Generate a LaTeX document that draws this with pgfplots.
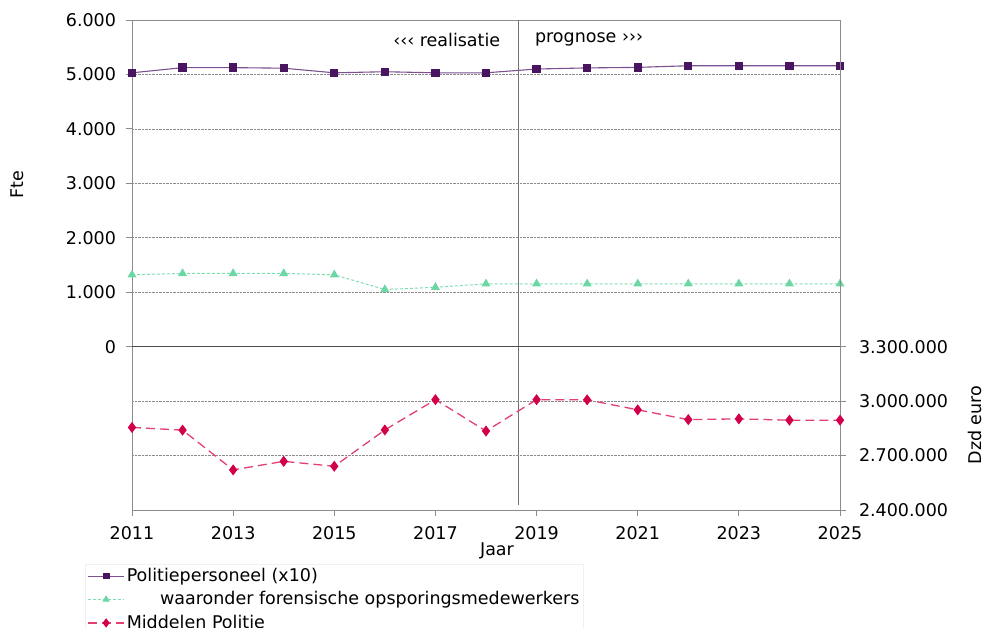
\documentclass[border=0pt]{standalone}
\usepackage{fontspec}
\setmainfont{DejaVu Sans}
\usepackage{pgfplots}
\pgfplotsset{compat=1.18}

\definecolor{pmark}{HTML}{4A1560}
\definecolor{pline}{HTML}{7D5090}
\definecolor{gmark}{HTML}{6CD6A4}
\definecolor{gline}{HTML}{7FDDB2}
\definecolor{rmark}{HTML}{D2004B}
\definecolor{rline}{HTML}{E2416F}
\definecolor{axgray}{HTML}{8C8C8C}

\pgfplotstableread{
jaar fte
2011 5030
2012 5125
2013 5125
2014 5115
2015 5030
2016 5050
2017 5030
2018 5030
2019 5100
2020 5120
2021 5130
2022 5160
2023 5160
2024 5160
2025 5160
}\personeel

\pgfplotstableread{
jaar fte
2011 1320
2012 1345
2013 1345
2014 1345
2015 1320
2016 1050
2017 1090
2018 1155
2019 1155
2020 1155
2021 1155
2022 1155
2023 1155
2024 1155
2025 1155
}\forensisch

\pgfplotstableread{
jaar euro
2011 2855000
2012 2840000
2013 2621000
2014 2668000
2015 2641000
2016 2841000
2017 3008000
2018 2835000
2019 3008000
2020 3007000
2021 2952000
2022 2898000
2023 2902000
2024 2895000
2025 2895000
}\middelen

\pgfplotsset{
  basis/.style={
    at={(132pt,117pt)}, anchor=south west,
    width=708pt, height=490pt, scale only axis,
    xmin=2011, xmax=2025, clip=false,
    /pgf/number format/assume math mode=true,
    axis line style={axgray, line width=0.8pt},
    tick style={axgray, line width=0.8pt},
    tick align=outside, major tick length=6pt,
    grid style={densely dotted, black!45, line width=0.6pt},
    ymajorgrids,
  },
  stijlP/.style={pline, line width=1.1pt, mark=square*, mark size=3.6pt,
    mark options={solid, fill=pmark, draw=pmark}},
  stijlG/.style={gline, line width=1pt, dash pattern=on 3pt off 2pt, mark=triangle*, mark size=4.2pt,
    mark options={solid, fill=gmark, draw=gmark}},
  stijlR/.style={rline, line width=1.3pt, dash pattern=on 9pt off 5pt, mark=diamond*, mark size=4.5pt,
    mark options={solid, fill=rmark, draw=rmark}},
}

\begin{document}
\fontsize{17.5pt}{21pt}\selectfont
\begin{tikzpicture}
\path[use as bounding box] (0pt,0pt) rectangle (984pt,627pt);
\clip (0pt,0pt) rectangle (984pt,627pt);

\begin{axis}[basis,
  ymin=-3000, ymax=6000,
  xtick={2011,2013,...,2025},
  ytick={0,1000,...,6000},
  xtick pos=bottom, ytick pos=left,
  xticklabel style={/pgf/number format/1000 sep={}, yshift=-4pt},
  yticklabel style={/pgf/number format/fixed, /pgf/number format/1000 sep={.}, xshift=-4pt},
  legend style={at={(axis description cs:-0.066,-0.11)}, anchor=north west,
    draw=black!6, fill=none, font=\fontsize{17.5pt}{21pt}\selectfont,
    row sep=3.5pt, inner sep=2pt},
  legend cell align=left,
  legend image code/.code={\draw[mark repeat=2, mark phase=2,
    every mark/.append style={scale=0.8}]
    plot coordinates {(0pt,0pt) (18pt,0pt) (36pt,0pt)};},
]
\addplot[stijlP] table[x=jaar, y=fte] {\personeel};
\addlegendentry{Politiepersoneel (x10)}
\addplot[stijlG] table[x=jaar, y=fte] {\forensisch};
\addlegendentry{\hspace{1.9em}waaronder forensische opsporingsmedewerkers}
\addlegendimage{stijlR}
\addlegendentry{Middelen Politie}
\draw[black!70, line width=1.2pt] (axis cs:2011,0) -- (axis cs:2025,0);
\draw[black!55, line width=1pt] (axis cs:2018.65,6000) -- (axis cs:2018.65,-2910);
\node[anchor=east] at (axis cs:2018.4,5640) {‹‹‹ realisatie};
\node[anchor=west] at (axis cs:2018.85,5640) {prognose ›››};
\end{axis}

\begin{axis}[basis,
  ymin=2400000, ymax=5100000,
  ytick={2400000,2700000,3000000,3300000},
  axis x line=none, axis y line*=right,
  scaled y ticks=false,
  yticklabel style={/pgf/number format/fixed, /pgf/number format/precision=0,
    /pgf/number format/1000 sep={.}, xshift=7pt},
]
\addplot[stijlR] table[x=jaar, y=euro] {\middelen};
\draw[black!70, line width=1.2pt] (axis cs:2011,3300000) -- (axis cs:2025,3300000);
\end{axis}

\node[rotate=90] at (17pt,442pt) {Fte};
\node[rotate=90, inner sep=0pt] at (975pt,202pt) {Dzd euro};
\node at (497pt,76pt) {Jaar};
\end{tikzpicture}
\end{document}
